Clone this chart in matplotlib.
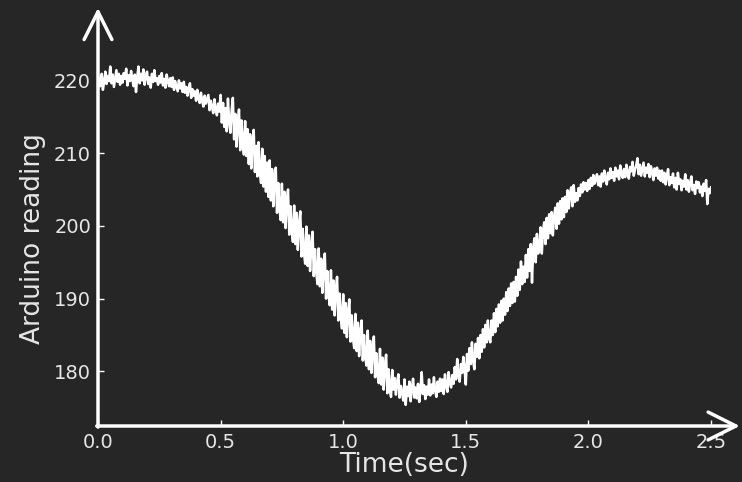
import numpy as np
import matplotlib
matplotlib.use("Agg")
import matplotlib.pyplot as plt

# time axis: one reading every 0.005 s
t_start, t_step = 0.0, 0.005
readings = [
    218.9, 220.4, 219.2, 220.9, 218.7, 219.8, 221.2, 219.5, 220.6, 219.9,
    221.9, 219.6, 220.8, 219.1, 220.3, 221.4, 219.8, 220.9, 219.4, 220.6,
    219.7, 221.0, 220.2, 221.6, 219.3, 220.7, 219.9, 221.3, 220.1, 219.2,
    220.8, 218.4, 220.5, 221.9, 219.6, 220.9, 220.0, 221.5, 219.4, 220.7,
    221.2, 219.5, 220.4, 219.0, 220.9, 219.8, 221.4, 219.9, 220.3, 219.4,
    220.6, 219.7, 221.0, 219.3, 220.2, 219.0, 220.8, 219.9, 219.2, 220.3,
    219.1, 220.4, 218.7, 219.9, 219.2, 218.5, 220.0, 218.9, 219.6, 218.4,
    219.8, 218.3, 219.1, 217.9, 218.9, 219.6, 217.6, 218.8, 217.9, 218.5,
    217.2, 218.7, 217.6, 216.9, 218.3, 217.1, 216.4, 217.9, 216.8, 217.4,
    218.0, 215.9, 217.2, 216.3, 215.5, 217.4, 216.1, 215.2, 216.8, 215.7,
    218.0, 214.2, 216.9, 213.6, 216.2, 213.0, 217.5, 214.3, 212.8, 215.9,
    217.6, 211.9, 215.4, 210.9, 214.1, 216.0, 210.4, 214.5, 211.5, 209.8,
    214.4, 209.6, 213.3, 208.5, 212.6, 207.9, 211.8, 213.2, 207.4, 211.0,
    206.8, 211.5, 207.3, 205.9, 210.6, 205.4, 209.6, 204.7, 208.7, 204.0,
    209.0, 203.5, 207.8, 202.7, 206.9, 208.0, 201.8, 205.9, 202.4, 200.8,
    205.8, 200.5, 204.7, 199.7, 203.4, 205.0, 198.8, 202.7, 199.3, 197.8,
    202.8, 197.5, 201.8, 196.7, 200.3, 202.0, 195.8, 199.6, 196.3, 194.8,
    199.9, 194.5, 198.7, 193.8, 197.4, 199.2, 193.1, 196.8, 193.7, 192.0,
    196.9, 191.7, 195.5, 190.8, 194.6, 196.2, 190.0, 193.8, 190.5, 189.1,
    193.9, 188.5, 192.5, 187.7, 191.3, 193.0, 187.0, 190.7, 187.5, 185.9,
    190.6, 185.3, 189.4, 184.7, 188.2, 189.9, 184.1, 187.7, 184.5, 183.2,
    187.9, 182.8, 186.7, 182.1, 185.5, 187.0, 181.5, 185.0, 181.9, 180.8,
    185.6, 180.3, 184.2, 179.8, 183.1, 184.8, 179.2, 182.5, 179.5, 178.4,
    183.1, 178.2, 181.9, 177.5, 180.9, 182.3, 177.0, 180.3, 177.6, 176.5,
    180.2, 177.5, 179.1, 176.8, 178.5, 179.6, 176.4, 178.0, 177.1, 176.0,
    178.9, 175.4, 177.9, 176.6, 178.6, 175.9, 177.6, 179.0, 176.4, 177.8,
    176.3, 178.3, 175.8, 177.5, 179.9, 176.9, 178.1, 176.2, 177.9, 176.8,
    178.9, 176.7, 178.2, 177.0, 179.2, 177.4, 176.5, 178.6, 177.2, 179.0,
    177.3, 178.9, 176.9, 179.6, 178.0, 177.2, 179.9, 178.4, 177.8, 179.5,
    178.3, 180.6, 178.9, 181.7, 179.4, 178.6, 181.0, 179.8, 182.0, 180.2,
    178.2, 182.4, 180.1, 183.2, 181.0, 184.0, 181.4, 180.3, 183.8, 182.0,
    184.6, 181.8, 185.0, 182.7, 185.8, 183.3, 186.4, 184.0, 187.0, 184.5,
    184.0, 187.0, 185.0, 188.0, 185.4, 188.6, 186.2, 189.2, 186.7, 189.7,
    187.0, 190.0, 187.8, 190.9, 188.3, 191.4, 189.0, 192.1, 189.4, 192.3,
    189.6, 193.0, 190.4, 194.0, 191.2, 195.1, 192.0, 194.4, 192.3, 196.0,
    192.9, 196.8, 193.8, 197.5, 192.2, 197.0, 198.3, 195.0, 198.9, 196.2,
    197.0, 199.8, 196.2, 199.4, 200.5, 197.5, 201.1, 198.3, 201.6, 199.0,
    201.9, 198.7, 201.3, 202.5, 199.6, 203.1, 200.3, 203.4, 200.9, 203.8,
    201.2, 204.0, 201.9, 204.9, 202.4, 204.5, 205.3, 202.7, 205.6, 203.3,
    204.5, 203.5, 205.2, 204.1, 205.7, 204.6, 206.0, 205.0, 205.9, 204.8,
    206.3, 205.1, 206.6, 205.5, 207.0, 205.8, 206.4, 207.1, 205.6, 206.8,
    205.4, 207.2, 206.1, 207.6, 206.5, 205.7, 207.3, 206.4, 207.9, 206.6,
    207.4, 206.2, 208.0, 206.8, 207.6, 206.4, 208.3, 207.0, 206.6, 207.8,
    206.7, 208.4, 207.2, 206.5, 208.1, 207.5, 208.8, 206.9, 207.7, 208.3,
    209.3, 207.1, 208.4, 206.9, 207.8, 208.7, 206.8, 208.0, 207.3, 208.5,
    206.7, 208.2, 207.4, 206.3, 207.9, 206.9, 208.0, 206.5, 207.6, 206.2,
    207.6, 206.0, 207.3, 205.7, 206.9, 207.8, 205.6, 206.7, 205.9, 207.2,
    205.3, 206.6, 205.0, 207.3, 205.8, 206.4, 204.9, 206.2, 205.4, 207.1,
    205.0, 206.3, 204.7, 205.9, 206.8, 204.9, 205.6, 204.4, 206.1, 205.2,
    206.0, 204.6, 205.4, 204.1, 205.8, 204.8, 206.3, 203.0, 205.1, 204.5,
    205.3,
]
time = t_start + t_step * np.arange(len(readings))

x_ticks = [0.0, 0.5, 1.0, 1.5, 2.0, 2.5]
y_ticks = [180, 190, 200, 210, 220]

BG = "#262626"
FG = "white"
TXT = "#e6e6e6"

fig = plt.figure(figsize=(7.42, 4.82), dpi=100, facecolor=BG)
ax = fig.add_axes([98 / 742, 56 / 482, 613 / 742, 374 / 482])
ax.set_facecolor(BG)

ax.plot(time, readings, color=FG, lw=1.8)

ax.set_xlim(0, 2.5)
ax.set_ylim(172.5, 223.9)
ax.set_xticks(x_ticks)
ax.set_yticks(y_ticks)
ax.set_xticklabels([f"{v:.1f}" for v in x_ticks])
ax.set_yticklabels([str(v) for v in y_ticks])

for s in ["top", "right", "left", "bottom"]:
    ax.spines[s].set_visible(False)

ax.tick_params(direction="in", length=4, width=1, color=FG,
               labelcolor=TXT, labelsize=14, pad=5,
               top=False, right=False)

ax.set_xlabel("Time(sec)", fontsize=19, color=TXT, labelpad=0)
ax.set_ylabel("Arduino reading", fontsize=19, color=TXT, labelpad=6)

# axis lines with open arrow heads extending beyond the axes
arrow_kw = dict(arrowstyle="->,head_length=1.0,head_width=0.5",
                color=FG, lw=2.5, mutation_scale=20,
                shrinkA=0, shrinkB=0)
ax.annotate("", xy=(0, 1.118), xytext=(0, -0.003),
            xycoords="axes fraction", textcoords="axes fraction",
            arrowprops=arrow_kw, annotation_clip=False)
ax.annotate("", xy=(1.047, 0), xytext=(-0.002, 0),
            xycoords="axes fraction", textcoords="axes fraction",
            arrowprops=arrow_kw, annotation_clip=False)

fig.savefig("out.png", dpi=100, facecolor=BG)
